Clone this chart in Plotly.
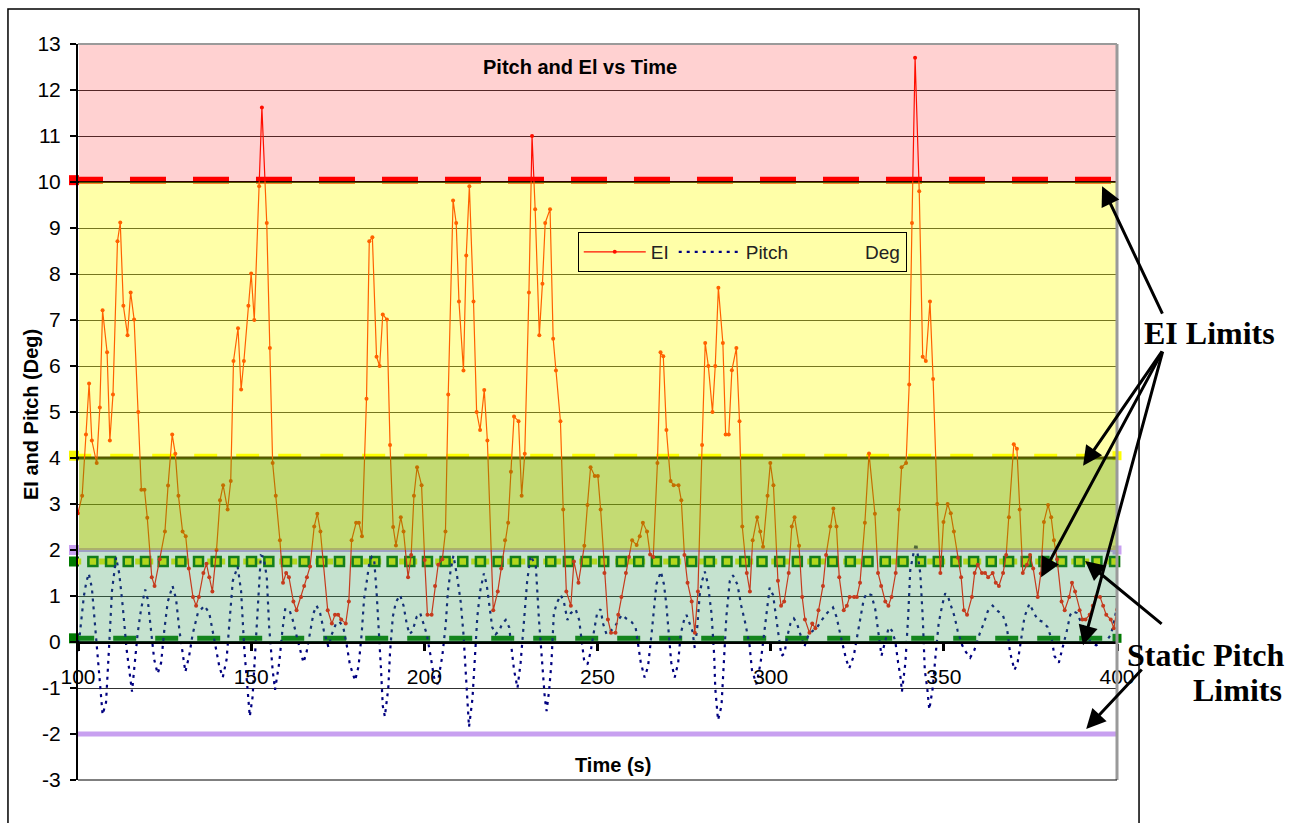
import plotly.graph_objects as go

# ---- EI samples (time in s, EI in degrees) ----
ei_time = [100.0, 101.2, 102.3, 103.2, 104.0, 105.4, 106.3, 107.1, 108.4, 109.2,
           110.1, 111.4, 112.2, 113.1, 114.3, 115.2, 116.2, 117.4, 118.3, 119.2,
           120.0, 121.3, 122.1, 123.6, 125.1, 126.0, 127.2, 128.1, 129.0, 130.2,
           131.1, 132.0, 133.2, 134.1, 134.9, 136.2, 137.1, 137.9, 138.8, 140.0,
           141.0, 141.9, 143.2, 144.1, 144.9, 146.2, 147.1, 147.9, 149.2, 150.0,
           150.9, 152.3, 153.1, 154.5, 155.4, 156.2, 157.1, 158.3, 159.2, 160.1,
           160.9, 162.2, 163.1, 164.4, 165.3, 166.1, 167.0, 168.2, 169.1, 170.0,
           172.1, 173.3, 174.2, 175.1, 176.0, 177.3, 178.2, 179.0, 180.3, 181.1,
           182.0, 183.3, 184.1, 185.0, 186.2, 187.1, 188.0, 189.2, 190.1, 191.0,
           191.8, 193.2, 194.0, 195.3, 196.2, 197.0, 197.9, 199.2, 200.1, 200.9,
           202.1, 203.1, 204.0, 205.2, 206.1, 206.9, 208.3, 209.2, 210.0, 211.3,
           212.1, 213.0, 214.2, 215.1, 216.1, 217.3, 218.2, 219.9, 221.2, 222.2,
           223.3, 224.2, 225.0, 225.9, 227.2, 228.1, 229.0, 230.2, 231.1, 232.0,
           233.2, 234.1, 234.9, 236.3, 237.2, 238.0, 239.3, 240.1, 241.0, 242.3,
           243.2, 244.5, 246.2, 247.1, 248.0, 249.2, 250.1, 250.9, 252.0, 253.0,
           253.9, 255.2, 256.0, 256.9, 258.2, 259.1, 260.0, 261.3, 262.2, 263.1,
           264.3, 265.2, 266.1, 267.3, 268.2, 269.0, 269.9, 271.1, 272.0, 273.4,
           274.2, 275.1, 276.0, 277.2, 278.1, 279.0, 280.2, 281.1, 282.0, 283.2,
           284.0, 284.9, 286.2, 287.0, 287.9, 288.8, 290.1, 291.0, 291.8, 293.1,
           294.0, 294.8, 296.1, 297.0, 297.8, 299.1, 299.9, 300.8, 302.1, 303.0,
           303.9, 305.2, 306.1, 306.9, 308.2, 309.1, 309.9, 311.2, 312.0, 312.9,
           313.8, 315.1, 316.0, 317.2, 318.1, 319.0, 319.8, 321.1, 322.0, 322.8,
           324.1, 324.9, 325.8, 327.2, 328.4, 330.1, 331.0, 331.9, 333.1, 334.0,
           334.9, 336.1, 337.0, 337.8, 339.1, 340.0, 340.8, 341.7, 342.9, 343.9,
           344.8, 346.0, 346.9, 348.1, 349.0, 349.9, 351.1, 352.0, 352.9, 354.1,
           355.0, 355.8, 356.7, 358.1, 358.9, 359.8, 361.0, 361.9, 362.8, 364.1,
           365.0, 365.9, 367.1, 368.0, 368.8, 370.2, 371.1, 371.9, 372.8, 374.0,
           374.9, 375.8, 377.1, 378.0, 378.9, 380.1, 381.0, 381.8, 382.7, 384.0,
           384.9, 386.2, 387.0, 387.9, 389.2, 390.0, 390.9, 392.1, 393.0, 393.9,
           395.1, 396.0, 396.9, 398.2, 399.1, 400.0]
ei_deg = [2.80, 3.18, 4.51, 5.62, 4.38, 3.89, 5.10, 7.21, 6.30, 4.38,
          5.38, 8.71, 9.12, 7.31, 6.67, 7.60, 7.01, 5.00, 3.31, 3.31,
          2.70, 1.41, 1.22, 1.80, 2.40, 3.40, 4.51, 4.09, 3.18, 2.40,
          2.30, 1.60, 0.98, 0.79, 0.98, 1.50, 1.70, 1.41, 1.10, 2.00,
          3.08, 3.41, 2.88, 3.50, 6.11, 6.82, 5.49, 6.11, 7.31, 8.01,
          7.00, 9.91, 11.62, 9.11, 6.39, 3.89, 3.18, 2.21, 1.29, 1.50,
          1.41, 0.88, 0.69, 0.98, 1.22, 1.41, 1.64, 2.51, 2.79, 2.40,
          0.69, 0.40, 0.59, 0.59, 0.49, 0.40, 0.88, 2.21, 2.59, 2.59,
          2.30, 5.29, 8.71, 8.80, 6.20, 6.00, 7.12, 7.01, 4.28, 2.50,
          2.10, 2.71, 2.40, 1.41, 1.89, 3.18, 3.80, 3.41, 1.78, 0.59,
          0.59, 1.22, 1.68, 1.80, 2.40, 5.38, 9.60, 9.11, 7.40, 5.90,
          8.40, 9.91, 7.40, 5.00, 4.61, 5.48, 4.38, 0.69, 1.10, 1.60,
          2.21, 2.59, 3.70, 4.90, 4.80, 3.18, 4.09, 7.60, 11.00, 9.41,
          6.67, 7.79, 9.11, 9.41, 6.59, 5.90, 4.80, 2.88, 1.10, 0.79,
          1.75, 1.29, 2.09, 2.98, 3.80, 3.61, 3.61, 2.88, 1.50, 0.49,
          0.20, 0.20, 0.59, 0.98, 1.50, 1.85, 2.21, 2.11, 2.30, 2.59,
          2.40, 1.90, 1.85, 3.89, 6.30, 6.21, 4.61, 3.50, 3.41, 3.41,
          3.08, 1.89, 1.29, 0.88, 0.20, 1.10, 4.28, 6.50, 6.00, 5.00,
          6.00, 7.70, 6.50, 4.51, 4.51, 5.91, 6.39, 4.80, 2.51, 1.50,
          1.10, 2.21, 2.71, 2.40, 2.07, 3.18, 3.89, 3.41, 1.33, 0.79,
          0.88, 1.50, 2.51, 2.71, 2.09, 0.98, 0.49, 0.20, 0.40, 0.30,
          0.69, 1.22, 1.89, 2.51, 2.90, 2.51, 1.41, 0.69, 0.79, 0.98,
          0.98, 0.98, 1.29, 2.59, 4.10, 2.79, 1.50, 1.22, 0.88, 0.79,
          0.98, 1.50, 2.88, 3.80, 3.89, 5.60, 9.11, 12.70, 9.80, 6.20,
          6.11, 7.40, 5.72, 3.00, 1.50, 2.61, 3.00, 2.80, 2.40, 1.83,
          1.41, 0.69, 0.59, 0.98, 1.50, 1.68, 1.50, 1.50, 1.41, 1.50,
          1.29, 1.22, 1.50, 1.89, 2.71, 4.30, 4.20, 2.88, 1.50, 1.68,
          1.89, 1.60, 0.98, 1.49, 2.61, 2.98, 2.71, 2.21, 1.80, 0.88,
          0.69, 0.98, 1.29, 1.10, 0.69, 0.49, 0.49, 0.59, 0.79, 0.98,
          0.98, 0.79, 0.59, 0.49, 0.30, 0.70]

# ---- Pitch samples (time in s, pitch in degrees) ----
pitch_time = [100.0, 100.8, 101.7, 102.4, 103.1, 104.0, 104.6, 105.2, 106.2, 107.1,
              108.1, 109.0, 109.8, 111.0, 111.9, 112.9, 114.0, 114.8, 115.6, 116.3,
              117.2, 118.2, 119.4, 120.1, 121.1, 122.0, 123.0, 124.0, 124.9, 125.9,
              127.3, 128.3, 129.3, 130.2, 131.0, 132.1, 133.1, 134.6, 136.5, 137.9,
              138.9, 139.8, 140.8, 141.8, 142.9, 143.7, 144.7, 146.1, 147.1, 148.0,
              149.0, 149.6, 150.4, 150.9, 152.1, 152.8, 153.6, 154.5, 155.2, 156.2,
              156.9, 158.1, 159.0, 159.8, 161.0, 162.0, 163.0, 164.1, 165.1, 166.0,
              167.0, 168.0, 168.9, 169.9, 171.0, 172.3, 173.3, 174.5, 175.5, 176.6,
              177.6, 178.5, 180.0, 181.0, 181.9, 182.6, 183.4, 184.1, 184.8, 185.5,
              186.2, 187.0, 187.5, 188.0, 188.6, 189.6, 190.1, 190.9, 191.8, 193.0,
              194.0, 194.9, 195.7, 196.6, 197.8, 198.8, 199.7, 200.7, 201.8, 202.8,
              203.8, 205.2, 206.2, 206.8, 207.6, 208.4, 209.5, 210.5, 211.3, 211.9,
              212.4, 212.9, 213.9, 214.5, 215.3, 216.1, 217.2, 218.0, 218.7, 219.6,
              220.6, 221.6, 222.5, 223.5, 224.5, 225.1, 225.9, 226.9, 227.8, 228.8,
              229.7, 230.7, 232.2, 233.1, 234.1, 234.8, 235.3, 236.0, 236.7, 237.4,
              238.4, 239.4, 240.3, 241.3, 242.3, 243.7, 244.7, 245.3, 246.1, 247.1,
              248.0, 249.0, 249.9, 250.9, 251.6, 252.6, 253.8, 255.0, 256.0, 257.1,
              258.3, 259.8, 261.0, 261.7, 262.5, 263.6, 264.6, 265.6, 266.3, 267.0,
              268.3, 269.2, 269.9, 270.6, 271.3, 272.3, 273.3, 274.0, 275.0, 275.7,
              276.6, 277.4, 278.1, 278.8, 279.5, 280.2, 281.0, 281.9, 282.9, 283.7,
              284.0, 284.8, 285.8, 286.5, 287.2, 288.2, 289.1, 290.4, 291.5, 292.7,
              293.9, 294.6, 295.9, 297.1, 298.1, 298.8, 299.7, 300.7, 301.6, 302.3,
              303.1, 304.0, 304.7, 305.7, 306.7, 307.6, 308.6, 309.7, 311.0, 312.1,
              313.4, 314.8, 316.3, 318.0, 319.0, 320.1, 321.1, 321.8, 322.7, 324.0,
              324.9, 325.9, 326.9, 327.8, 329.1, 330.2, 331.2, 332.0, 333.0, 334.1,
              335.0, 336.0, 336.8, 337.5, 337.9, 338.9, 339.7, 340.3, 341.3, 342.0,
              343.2, 343.9, 344.5, 345.2, 345.8, 346.8, 347.6, 348.5, 349.5, 350.4,
              351.4, 352.1, 353.1, 354.0, 355.3, 356.4, 357.6, 358.8, 360.3, 361.7,
              362.7, 364.1, 365.6, 367.0, 368.2, 369.1, 370.4, 371.3, 372.3, 373.3,
              374.7, 375.9, 377.1, 378.6, 380.0, 381.3, 381.9, 383.2, 384.3, 385.5,
              386.5, 387.2, 388.4, 389.6, 391.1, 392.5, 394.0, 395.4, 396.9, 398.3,
              399.3, 400.0]
pitch_deg = [-0.20, 0.40, 1.00, 1.30, 1.49, 1.18, 0.60, 0.17, -0.77, -1.58,
             -1.31, -0.07, 1.10, 1.84, 1.49, 0.79, -0.14, -0.61, -1.08, -0.53,
             0.17, 0.71, 1.14, 0.94, 0.24, -0.38, -0.69, -0.45, 0.24, 0.87,
             1.22, 0.94, 0.24, -0.30, -0.65, -0.30, 0.17, 0.63, 0.79, 0.63,
             0.24, -0.14, -0.53, -0.77, -0.38, 0.40, 1.33, 1.64, 1.10, -0.14,
             -1.00, -1.62, -1.20, -0.61, 0.94, 1.88, 1.85, 1.41, 0.32, -0.61,
             -1.04, -0.45, 0.24, 0.71, 0.71, 0.48, 0.17, -0.14, -0.45, -0.22,
             0.17, 0.63, 0.79, 0.63, 0.24, -0.11, 0.17, 0.40, 0.44, 0.32,
             -0.07, -0.49, -0.84, -0.53, 0.17, 0.94, 1.33, 1.72, 1.85, 1.80,
             1.10, 0.17, -0.61, -1.39, -1.62, -1.00, -0.22, 0.55, 0.87, 1.02,
             0.79, 0.40, 0.17, 0.24, 0.55, 0.63, 0.40, 0.17, -0.30, -0.77,
             -0.92, -0.30, 0.40, 1.10, 1.56, 1.88, 1.41, 0.87, 0.17, -0.61,
             -1.31, -1.85, -1.23, -0.45, 0.55, 1.10, 1.49, 1.25, 0.87, 0.32,
             0.17, 0.24, 0.40, 0.48, 0.32, -0.14, -0.61, -1.00, -0.45, 0.48,
             1.33, 1.88, 1.64, 0.48, -0.61, -1.23, -1.50, -1.08, -0.45, 0.63,
             0.87, 1.02, 0.87, 0.48, 0.63, 0.71, 0.48, 0.09, -0.38, -0.49,
             -0.22, 0.24, 0.63, 0.71, 0.40, 0.17, 0.25, 0.32, 0.48, 0.59,
             0.51, 0.44, 0.32, -0.07, -0.45, -0.77, -0.53, 0.17, 0.79, 1.25,
             1.53, 1.25, 0.79, 0.17, -0.45, -0.77, -0.45, 0.17, 0.48, 0.59,
             0.40, 0.24, -0.14, 0.32, 1.02, 1.33, 1.53, 1.25, 0.63, -0.30,
             -1.00, -1.70, -1.39, -0.45, 0.55, 1.33, 1.45, 1.25, 0.79, 0.40,
             -0.07, -0.61, -0.92, -0.45, 0.17, 0.71, 1.18, 1.02, 0.55, 0.17,
             -0.30, -0.25, 0.09, 0.40, 0.51, 0.40, 0.17, -0.11, 0.17, 0.24,
             0.32, 0.48, 0.63, 0.75, 0.55, 0.17, -0.14, -0.38, -0.57, -0.30,
             0.09, 0.55, 0.94, 1.06, 1.02, 0.71, 0.17, -0.30, 0.00, 0.32,
             0.25, 0.01, -0.45, -0.77, -1.08, -0.45, 0.55, 1.56, 1.95, 2.15,
             1.49, 0.55, -0.61, -1.00, -1.47, -1.00, -0.30, 0.40, 0.79, 1.06,
             0.94, 0.79, 0.55, 0.24, -0.07, -0.22, -0.34, -0.18, 0.17, 0.44,
             0.67, 0.79, 0.67, 0.59, 0.32, -0.22, -0.61, -0.45, 0.09, 0.55,
             0.83, 0.67, 0.48, 0.44, 0.32, 0.01, -0.30, -0.45, -0.14, 0.24,
             0.59, 0.67, 0.63, 0.44, 0.17, -0.03, -0.07, -0.03, 0.01, 0.17,
             0.48, 0.75]

# ---- limit levels (deg) ----
ei_red_limit = 10.0
ei_yellow_limit = 4.0
pitch_limit_hi = 2.0
pitch_limit_lo = -2.0
static_pitch_hi = 1.75
static_pitch_lo = 0.08
limit_start = 99.2
limit_end = 400.0
# sample times of the static pitch limit series (square markers)
static_marker_time = [104.3, 109.4, 114.5, 119.5, 124.6, 129.7, 134.8, 139.9, 145.0,
                      150.1, 155.1, 160.2, 165.3, 170.4, 175.5, 180.6, 185.7, 190.7, 195.8,
                      200.9, 206.0, 211.1, 216.2, 221.3, 226.3, 231.4, 236.5, 241.6, 246.7,
                      251.8, 256.9, 261.9, 267.0, 272.1, 277.2, 282.3, 287.4, 292.5, 297.5,
                      302.6, 307.7, 312.8, 317.9, 323.0, 328.1, 333.1, 338.2, 343.3, 348.4,
                      353.5, 358.6, 363.7, 368.7, 373.8, 378.9, 384.0, 389.1, 394.2, 399.3]

# ---- colour bands: (low, high, colour, opacity) ----
bands = [
    (10, 13, "#FF0000", 0.18),
    (4, 10, "#FFFF00", 0.34),
    (2, 4, "#94BE00", 0.55),
    (0, 2, "#3FA060", 0.30),
]

x_ticks = [100, 150, 200, 250, 300, 350, 400]
y_ticks = list(range(-3, 14))
y_tick_text = [str(v) for v in y_ticks]
Y_MIN, Y_MAX = -3, 13

SANS = "Liberation Sans, Arial, sans-serif"
SERIF = "Liberation Serif, Times New Roman, serif"

fig = go.Figure()


def limit_line(level, color, width, dash="solid", start=limit_start, end_marker=False):
    fig.add_trace(go.Scatter(
        x=[start, limit_end], y=[level, level], mode="lines",
        line=dict(color=color, width=width, dash=dash),
        showlegend=False, hoverinfo="skip"))
    if end_marker:
        fig.add_trace(go.Scatter(
            x=[limit_end], y=[level], mode="markers",
            marker=dict(symbol="square", size=9, color=color),
            cliponaxis=False, showlegend=False, hoverinfo="skip"))


# limit lines
limit_line(pitch_limit_lo, "#C8A0F0", 5)
limit_line(pitch_limit_hi, "#C8A0F0", 4, end_marker=True)
limit_line(static_pitch_lo, "#007A00", 5, "23px,19px", start=98.04, end_marker=True)
limit_line(static_pitch_hi, "#E6F000", 6, "6px,6px")
fig.add_trace(go.Scatter(
    x=static_marker_time, y=[static_pitch_hi] * len(static_marker_time),
    mode="markers", cliponaxis=False,
    marker=dict(symbol="square", size=9, color="#E6F000",
                line=dict(color="#007000", width=2.5)),
    showlegend=False, hoverinfo="skip"))
limit_line(ei_yellow_limit + 0.05, "#FFFF00", 4, "23px,19px", start=97.17, end_marker=True)
limit_line(ei_yellow_limit, "#000000", 3, start=100.0)
limit_line(ei_red_limit + 0.04, "#FF0000", 7, "36px,27px", start=96.82)
limit_line(ei_red_limit, "#000000", 2, start=100.0)

# data series
fig.add_trace(go.Scatter(
    x=pitch_time, y=pitch_deg, mode="lines", name="Pitch",
    line=dict(color="#000080", width=2.2, dash="3px,5px"),
    legendrank=2))
fig.add_trace(go.Scatter(
    x=ei_time, y=ei_deg, mode="lines+markers", name="EI",
    line=dict(color="#FF1000", width=1.2),
    marker=dict(symbol="circle", size=4, color="#FF1000"),
    legendrank=1))
fig.add_trace(go.Scatter(
    x=[None], y=[None], mode="lines", name="Deg",
    line=dict(color="rgba(0,0,0,0)", width=1),
    legendrank=3))

shapes = []
for lo, hi, col, op in bands:
    shapes.append(dict(type="rect", xref="x", yref="y", x0=100.3, x1=400, y0=lo, y1=hi,
                       fillcolor=col, opacity=op, line=dict(width=0), layer="above"))

# start-of-series markers for the limit lines, just left of the value axis
for level, col in [(ei_red_limit + 0.04, "#FF0000"), (ei_yellow_limit + 0.05, "#F4F400"),
                   (pitch_limit_hi, "#C8A0F0"), (static_pitch_hi, "#007A00"),
                   (static_pitch_lo, "#007A00")]:
    shapes.append(dict(type="rect", xref="paper", yref="paper", xsizemode="pixel",
                       ysizemode="pixel", xanchor=0,
                       yanchor=(level - Y_MIN) / (Y_MAX - Y_MIN),
                       x0=-9, x1=1, y0=-5, y1=5, fillcolor=col,
                       line=dict(width=0), layer="below"))

# plot-area border
shapes += [
    dict(type="line", xref="paper", yref="paper", x0=0, x1=1, y0=1, y1=1,
         line=dict(color="#9A9A9A", width=2), layer="above"),
    dict(type="line", xref="paper", yref="paper", x0=1, x1=1, y0=0, y1=1,
         line=dict(color="#9A9A9A", width=3), layer="above"),
    dict(type="line", xref="paper", yref="paper", x0=0, x1=1, y0=0, y1=0,
         line=dict(color="#000000", width=1), layer="above"),
    # outer chart frame
    dict(type="rect", xref="paper", yref="paper", x0=-0.0674, x1=1.0212, y0=-0.1, y1=1.0476,
         line=dict(color="#000000", width=1.5), fillcolor="rgba(0,0,0,0)", layer="below"),
]

arrow = dict(showarrow=True, arrowhead=2, arrowsize=1.3, arrowwidth=3, arrowcolor="#000000",
             text="", xref="x", yref="y", axref="pixel", ayref="pixel", standoff=0)
annotations = [
    dict(text="<b>Pitch and El vs Time</b>", xref="paper", yref="paper", x=0.483, y=0.9688,
         xanchor="center", yanchor="middle", showarrow=False,
         font=dict(family=SANS, size=20, color="#000000")),
    dict(text="<b>EI and Pitch (Deg)</b>", xref="paper", yref="paper", x=-0.0452, y=0.496,
         xanchor="center", yanchor="middle", textangle=-90, showarrow=False,
         font=dict(family=SANS, size=20, color="#000000")),
    dict(text="<b>Time (s)</b>", xref="x", yref="y", x=254.5, y=-2.67,
         xanchor="center", yanchor="middle", showarrow=False,
         font=dict(family=SANS, size=20, color="#000000")),
    dict(text="<b>EI Limits</b>", xref="paper", yref="paper", x=1.0241, y=0.6073,
         xanchor="left", yanchor="middle", showarrow=False,
         font=dict(family=SERIF, size=32, color="#000000")),
    dict(text="<b>Static Pitch</b>", xref="paper", yref="paper", x=1.1636, y=0.1698,
         xanchor="right", yanchor="middle", showarrow=False,
         font=dict(family=SERIF, size=32, color="#000000")),
    dict(text="<b>Limits</b>", xref="paper", yref="paper", x=1.1607, y=0.1223,
         xanchor="right", yanchor="middle", showarrow=False,
         font=dict(family=SERIF, size=32, color="#000000")),
    dict(arrow, x=395.7, y=9.91, ax=61, ay=129),
    dict(arrow, x=390.2, y=3.83, ax=80, ay=-116),
    dict(arrow, x=378.1, y=1.41, ax=122, ay=-227),
    dict(arrow, x=390.2, y=-0.07, ax=80, ay=-295),
    dict(arrow, x=390.8, y=1.76, ax=78, ay=64),
    dict(arrow, x=391.1, y=-1.89, ax=57, ay=-61),
]

fig.update_layout(
    width=1304, height=823,
    margin=dict(l=78, r=187, t=44, b=43),
    paper_bgcolor="#FFFFFF", plot_bgcolor="#FFFFFF",
    font=dict(family=SANS, size=21, color="#000000"),
    shapes=shapes, annotations=annotations,
    legend=dict(orientation="h", x=0.481, y=0.7446, xanchor="left", yanchor="top",
                bgcolor="rgba(0,0,0,0)", bordercolor="#000000", borderwidth=1,
                font=dict(family=SANS, size=19, color="#222222"),
                itemwidth=62, traceorder="normal"),
    xaxis=dict(range=[100, 400], tickvals=x_ticks, showgrid=False, zeroline=False,
               showline=True, linecolor="#000000", linewidth=3,
               ticks="outside", ticklen=7, tickwidth=3, tickcolor="#000000",
               ticklabelstandoff=8,
               anchor="free", position=3 / 16, tickfont=dict(size=21)),
    yaxis=dict(range=[Y_MIN, Y_MAX], tickvals=y_ticks, ticktext=y_tick_text, showgrid=True,
               gridcolor="#303030", gridwidth=1, zeroline=False, showline=True,
               linecolor="#000000", linewidth=2, ticks="outside", ticklen=6, tickwidth=2,
               tickcolor="#000000", ticklabelstandoff=5, tickfont=dict(size=21)),
    showlegend=True,
)

fig.write_html("out.html")
